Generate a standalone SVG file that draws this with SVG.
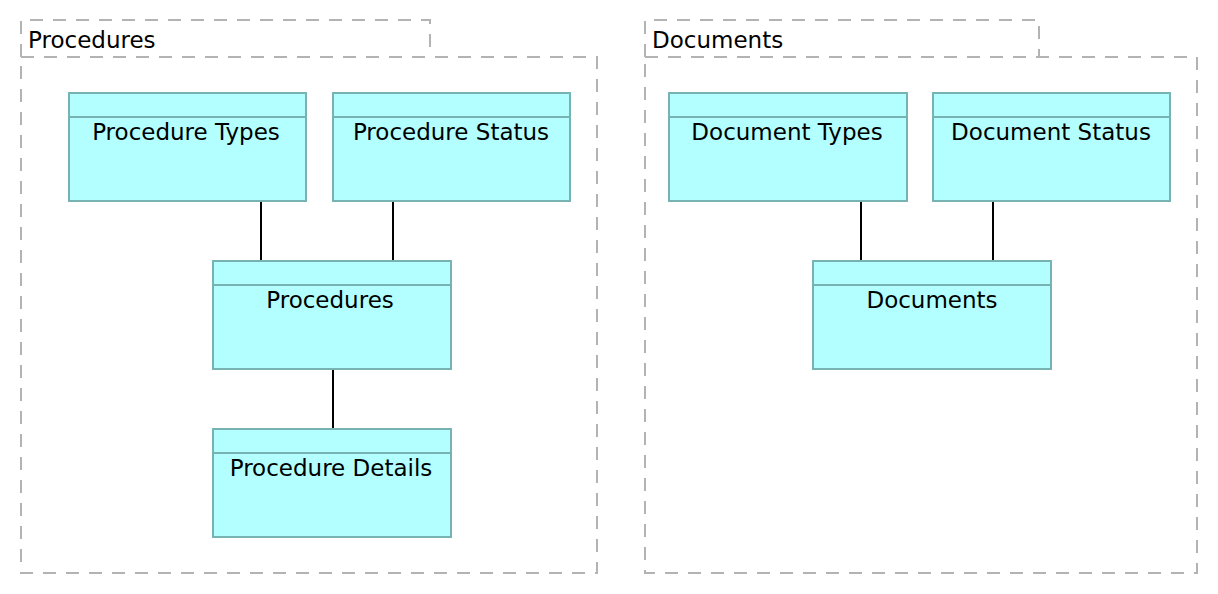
<svg xmlns="http://www.w3.org/2000/svg" width="1218" height="594" viewBox="0 0 1218 594">
<style>
.pkg{fill:none;stroke:#b3b3b3;stroke-width:2;stroke-dasharray:13 10}
.box{fill:#b3ffff;stroke:#79b2b2;stroke-width:2}
.div{stroke:#79b2b2;stroke-width:2}
.lbl{font-family:"DejaVu Sans",sans-serif;font-size:23px;fill:#000;text-anchor:middle}
.ttl{font-family:"DejaVu Sans",sans-serif;font-size:23px;fill:#000}
.con{stroke:#000;stroke-width:2;fill:none}
</style>
<rect width="1218" height="594" fill="#fff"/>
<g id="pkg-procedures">
<path class="pkg" d="M21 57 V20 H430 V57 M21 57 H597 V573 H21 Z"/>
<text class="ttl" x="28" y="48">Procedures</text>
</g>
<g id="pkg-documents">
<path class="pkg" d="M645 57 V20 H1039 V57 M645 57 H1197 V573 H645 Z"/>
<text class="ttl" x="652" y="48">Documents</text>
</g>
<g id="connectors">
<line class="con" x1="261" y1="201" x2="261" y2="261"/>
<line class="con" x1="393" y1="201" x2="393" y2="261"/>
<line class="con" x1="333" y1="369" x2="333" y2="429"/>
<line class="con" x1="861" y1="201" x2="861" y2="261"/>
<line class="con" x1="993" y1="201" x2="993" y2="261"/>
</g>
<g id="procedure-types">
<rect class="box" x="69" y="93" width="237" height="108"/>
<line class="div" x1="69" y1="117" x2="306" y2="117"/>
<text class="lbl" x="186" y="140">Procedure Types</text>
</g>
<g id="procedure-status">
<rect class="box" x="333" y="93" width="237" height="108"/>
<line class="div" x1="333" y1="117" x2="570" y2="117"/>
<text class="lbl" x="451" y="140">Procedure Status</text>
</g>
<g id="procedures">
<rect class="box" x="213" y="261" width="238" height="108"/>
<line class="div" x1="213" y1="285" x2="451" y2="285"/>
<text class="lbl" x="330" y="308">Procedures</text>
</g>
<g id="procedure-details">
<rect class="box" x="213" y="429" width="238" height="108"/>
<line class="div" x1="213" y1="453" x2="451" y2="453"/>
<text class="lbl" x="331" y="476">Procedure Details</text>
</g>
<g id="document-types">
<rect class="box" x="669" y="93" width="238" height="108"/>
<line class="div" x1="669" y1="117" x2="907" y2="117"/>
<text class="lbl" x="787" y="140">Document Types</text>
</g>
<g id="document-status">
<rect class="box" x="933" y="93" width="237" height="108"/>
<line class="div" x1="933" y1="117" x2="1170" y2="117"/>
<text class="lbl" x="1051" y="140">Document Status</text>
</g>
<g id="documents">
<rect class="box" x="813" y="261" width="238" height="108"/>
<line class="div" x1="813" y1="285" x2="1051" y2="285"/>
<text class="lbl" x="932" y="308">Documents</text>
</g>
</svg>
